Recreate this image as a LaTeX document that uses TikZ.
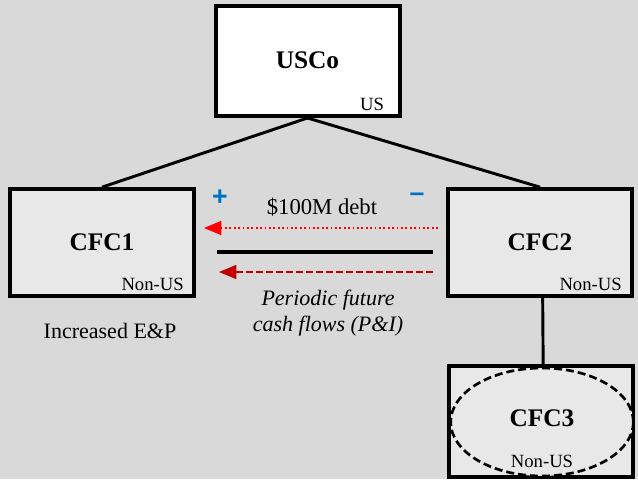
\documentclass[tikz,border=0pt]{standalone}
\usepackage{fontspec}
\setmainfont{Liberation Serif}
\newfontfamily\signfont{Liberation Sans}
\usetikzlibrary{arrows.meta,shapes.geometric}
\definecolor{bggray}{HTML}{D9D9D9}
\definecolor{boxgray}{HTML}{E8E8E8}
\definecolor{signblue}{HTML}{0070C0}
\definecolor{darkred}{HTML}{C00000}
\begin{document}
\begin{tikzpicture}[x=0.75pt, y=-0.75pt,
    entity/.style={draw, line width=3pt, fill=boxgray, minimum width=138pt, minimum height=80pt, inner sep=0pt},
    tag/.style={anchor=south east, font=\fontsize{14}{16}\selectfont, inner sep=2pt},
    coname/.style={font=\fontsize{19}{22}\selectfont\bfseries},
    sign/.style={signblue, font=\fontsize{20}{22}\selectfont\signfont\bfseries},
    link/.style={line width=2.2pt},
    loan/.style={red, line width=1.3pt, dotted, -{Triangle[length=13pt, width=10.5pt]}},
    payment/.style={darkred, line width=1.3pt, dashed, dash pattern=on 5pt off 2.5pt, -{Triangle[length=13pt, width=10.5pt]}}]
  \fill[bggray] (0,0) rectangle (638,479);
  \useasboundingbox (0,0) rectangle (638,479);

  \node[entity, fill=white, minimum height=82.5pt] (usco) at (307.5,61) {};
  \node[coname] (usconame) at (307.5,60) {USCo};
  \node[tag] (uscotag) at ([xshift=-11pt, yshift=3pt]usco.south east) {US};

  \node[entity] (cfc1) at (102,242.5) {};
  \node[coname] (cfc1name) at (102,242) {CFC1};
  \node[tag] (cfc1tag) at ([xshift=-7pt, yshift=3pt]cfc1.south east) {Non-US};

  \node[entity] (cfc2) at (540,242.5) {};
  \node[coname] (cfc2name) at (540,242) {CFC2};
  \node[tag] (cfc2tag) at ([xshift=-7pt, yshift=3pt]cfc2.south east) {Non-US};

  \node[entity, minimum height=83pt] (cfc3) at (540.5,421.5) {};
  \node[draw, dashed, dash pattern=on 6pt off 3pt, line width=2pt, ellipse, fill=boxgray,
        minimum width=137pt, minimum height=81pt] (cfc3oval) at (542,422) {};
  \node[coname] (cfc3name) at (542,418) {CFC3};
  \node[font=\fontsize{14}{16}\selectfont] (cfc3tag) at (542,461) {Non-US};

  \path (usco.south) edge[link] (cfc1.north);
  \path (usco.south) edge[link] (cfc2.north);
  \path ([xshift=2pt]cfc2.south) edge[link] ([xshift=2pt]cfc3.north);

  % debt and cash flows between the two CFCs
  \coordinate (debtstart) at (438,228);
  \coordinate (debtend) at (204,228);
  \coordinate (barstart) at (217,252);
  \coordinate (barend) at (433,252);
  \coordinate (flowstart) at (433,272);
  \coordinate (flowend) at (219,272);

  \draw[loan] (debtstart) -- (debtend);
  \draw[line width=3pt] (barstart) -- (barend);
  \draw[payment] (flowstart) -- (flowend);

  \node[font=\fontsize{17}{20}\selectfont] (debt) at (322,207) {\$100M debt};
  \node[sign] (plus) at (220,198) {+};
  \node[sign] (minus) at (417,197) {–};
  \node[align=center, font=\fontsize{16.5}{20}\selectfont\itshape] (flows) at (328,313)
    {Periodic future\\cash flows (P\&I)};
  \node[font=\fontsize{16.5}{20}\selectfont] (ep) at (110,331) {Increased E\&P};
\end{tikzpicture}
\end{document}
